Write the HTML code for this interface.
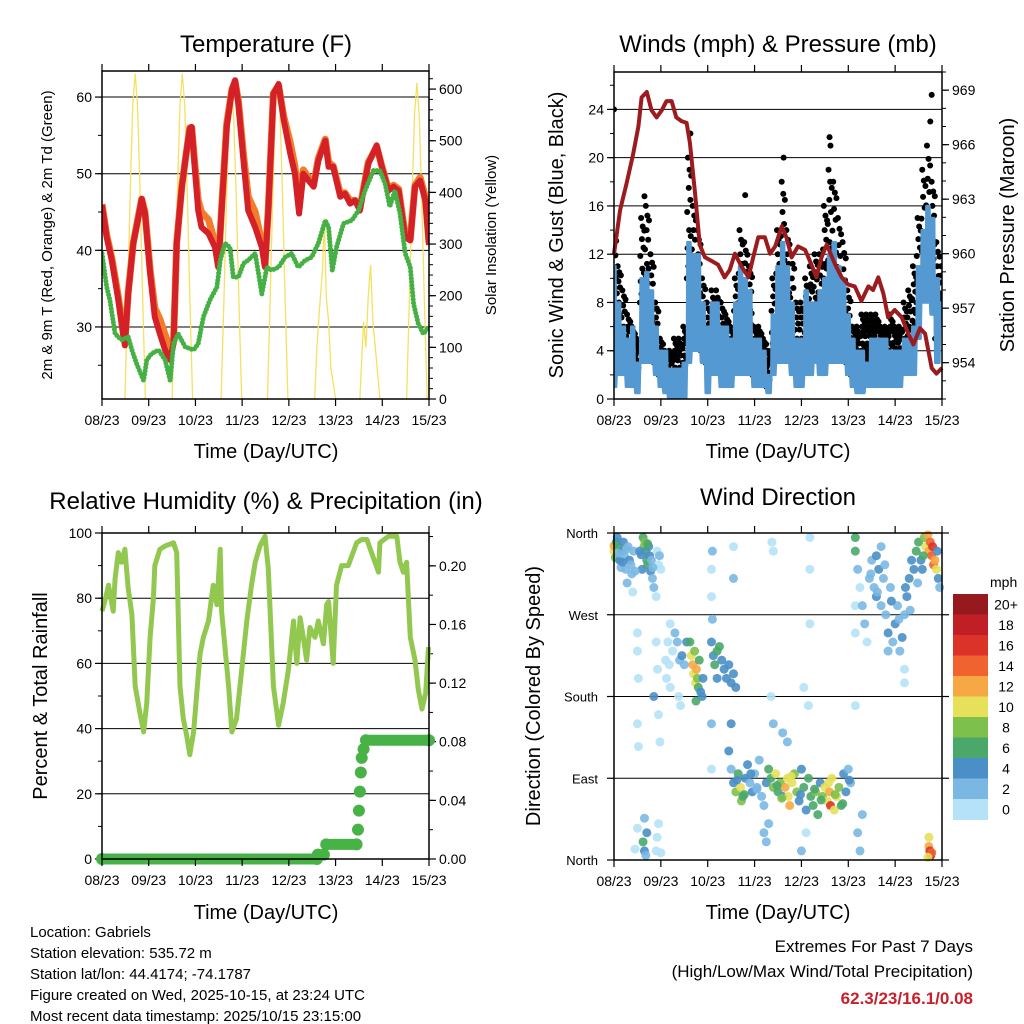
<!DOCTYPE html>
<html><head><meta charset="utf-8"><style>
html,body{margin:0;padding:0;background:#fff;}
svg{display:block;font-family:"Liberation Sans",Arial,sans-serif;}
</style></head><body>
<svg id="chart" width="1024" height="1024" viewBox="0 0 1024 1024" xmlns="http://www.w3.org/2000/svg">
<rect width="1024" height="1024" fill="#fff"/>
<text x="266" y="52" font-size="24" text-anchor="middle">Temperature (F)</text>
<text x="778" y="52" font-size="24" text-anchor="middle">Winds (mph) &amp; Pressure (mb)</text>
<text x="266" y="509" font-size="24" text-anchor="middle">Relative Humidity (%) &amp; Precipitation (in)</text>
<text x="778" y="505" font-size="24" text-anchor="middle">Wind Direction</text>
<text x="266" y="458" font-size="20" text-anchor="middle">Time (Day/UTC)</text>
<text x="778" y="458" font-size="20" text-anchor="middle">Time (Day/UTC)</text>
<text x="266" y="919" font-size="20" text-anchor="middle">Time (Day/UTC)</text>
<text x="778" y="919" font-size="20" text-anchor="middle">Time (Day/UTC)</text>
<text transform="translate(52,235) rotate(-90)" font-size="15" text-anchor="middle">2m &amp; 9m T (Red, Orange) &amp; 2m Td (Green)</text>
<text transform="translate(496,235) rotate(-90)" font-size="15" text-anchor="middle">Solar Insolation (Yellow)</text>
<text transform="translate(563,235) rotate(-90)" font-size="20" text-anchor="middle">Sonic Wind &amp; Gust (Blue, Black)</text>
<text transform="translate(1014,235) rotate(-90)" font-size="20" text-anchor="middle">Station Pressure (Maroon)</text>
<text transform="translate(47,696) rotate(-90)" font-size="20" text-anchor="middle">Percent &amp; Total Rainfall</text>
<text transform="translate(540,696) rotate(-90)" font-size="20" text-anchor="middle">Direction (Colored By Speed)</text>
<g font-size="15">
<text x="30" y="937">Location: Gabriels</text>
<text x="30" y="958">Station elevation: 535.72 m</text>
<text x="30" y="979">Station lat/lon: 44.4174; -74.1787</text>
<text x="30" y="1000">Figure created on Wed, 2025-10-15, at 23:24 UTC</text>
<text x="30" y="1021">Most recent data timestamp: 2025/10/15 23:15:00</text>
</g>
<g text-anchor="end">
<text x="973" y="952" font-size="17">Extremes For Past 7 Days</text>
<text x="973" y="977" font-size="17">(High/Low/Max Wind/Total Precipitation)</text>
<text x="973" y="1004" font-size="17" font-weight="bold" fill="#c8202a">62.3/23/16.1/0.08</text>
</g>
</svg>
<script>
// ---- data ----
const dayLabels = ["08/23","09/23","10/23","11/23","12/23","13/23","14/23","15/23"];
const tempTimes = [0,0.1,0.21,0.35,0.46,0.49,0.56,0.67,0.78,0.85,0.92,1.03,1.13,1.24,1.35,1.46,1.53,1.6,1.71,1.81,1.88,1.92,1.99,2.06,2.13,2.28,2.42,2.49,2.56,2.67,2.78,2.85,2.92,3.03,3.13,3.28,3.42,3.49,3.56,3.67,3.78,3.89,4.03,4.13,4.22,4.31,4.42,4.53,4.63,4.78,4.85,4.95,5.1,5.2,5.31,5.42,5.52,5.7,5.88,5.99,6.13,6.24,6.35,6.49,6.6,6.7,6.81,6.92,7.0];
const tempRed = [45.9,41.7,38.7,33.5,28.7,27.6,34.3,40.9,44.3,46.7,44.8,37,31.3,29.1,27,25.7,27.8,40.9,48.3,53,55.9,56.1,50.4,45.2,43,42.2,40.4,37.8,45.2,56.1,60.9,62.2,59.1,51.7,45.2,43,40.4,37.8,45.2,60.4,61.7,57,52.6,50,44.8,50,49.1,48.3,51.7,54.3,50.9,50.9,47,47.4,46.1,46.5,45.2,51.3,53.7,50.9,47.8,48.3,47.8,41.7,41.3,48.3,49.1,46.5,40.7];
const tempOrange = [46,42,39,34,29,28,34.5,41,44.5,46.7,45,37.5,32.5,31,29,27,28,41,48.5,53,56,56,51,46.5,45,44,41,38,45.5,56.5,61,62,59.5,52.5,47,45,41,38,45.5,60.5,61.5,57.5,54,51,45.5,50.5,49.5,48.5,52,54.5,51.5,51,47.5,47.5,46.5,46.5,45.5,51.5,53.5,51,48,48.5,48,42,41.5,48.5,49.5,47,41];
const dewTimes = [0,0.1,0.17,0.28,0.42,0.56,0.64,0.74,0.89,0.96,1.06,1.21,1.35,1.46,1.53,1.63,1.78,1.96,2.06,2.17,2.31,2.46,2.53,2.63,2.74,2.81,2.92,3.03,3.13,3.28,3.35,3.42,3.53,3.63,3.78,3.92,4.06,4.2,4.35,4.49,4.63,4.78,4.85,4.93,5.02,5.17,5.35,5.49,5.63,5.81,5.95,6.06,6.16,6.27,6.38,6.49,6.6,6.67,6.77,6.88,6.99];
const dewVals = [39.6,35.2,33.5,29.1,28.3,28.7,27,25.2,23,25.7,26.5,27,25.7,23,27.8,29.1,27.4,27,27.8,31.3,33.5,35.2,38.7,40.9,40.4,36.5,36.5,38.3,38.7,39.6,37,34.3,37.8,37.4,37.8,39.1,39.6,37.8,38.7,39.1,40.9,43.9,43,37.4,40.4,43.5,43.9,45.2,47.8,50.4,50.4,48.7,45.7,47.8,44.8,39.6,37.8,33,30.4,29.1,30];
const solarTimes = [0.49,0.55,0.61,0.66,0.71,0.76,0.81,0.87,0.93, 1.5,1.56,1.62,1.67,1.72,1.77,1.82,1.88,1.94, 2.55,2.61,2.67,2.72,2.77,2.82,2.87,2.93,2.99, 3.54,3.6,3.66,3.71,3.76,3.81,3.86,3.92,3.98, 4.55,4.6,4.66,4.72,4.76,4.8,4.85,4.9,5.0, 5.52,5.55,5.6,5.65,5.7,5.75,5.8,5.85,5.95, 6.52,6.58,6.64,6.69,6.74,6.79,6.84,6.9,6.96];
const solarVals = [0,200,420,570,630,570,420,200,0, 0,200,420,570,630,570,420,200,0, 0,190,400,545,604,545,400,190,0, 0,195,410,555,616,555,410,195,0, 0,100,180,250,350,200,150,60,0, 0,60,150,100,200,260,150,100,0, 0,195,400,550,612,550,400,195,0];
const windTimes = [0,0.1,0.2,0.3,0.4,0.5,0.6,0.7,0.8,0.9,1,1.1,1.2,1.3,1.4,1.5,1.6,1.7,1.8,1.9,2,2.1,2.2,2.3,2.4,2.5,2.6,2.7,2.8,2.9,3,3.1,3.2,3.3,3.4,3.5,3.6,3.7,3.8,3.9,4,4.1,4.2,4.3,4.4,4.5,4.6,4.7,4.8,4.9,5,5.1,5.2,5.3,5.4,5.5,5.6,5.7,5.8,5.9,6,6.1,6.2,6.3,6.4,6.5,6.6,6.7,6.8,6.9,7];
const sustLo = [1,2,2,1,1,0.5,3,3,3,2,1,0.5,0,0,0,0,3,4,4,3,0.5,2,2,1,1,1,2,2,2,2,1,1,1,0.5,2,3,3,3,2,1,1,2,2,3,2,2,3,3,3,3,2,1,0.5,0.5,1,1,1,1,1,1,1,1,2,2,2,5,8,8,7,3,6];
const sustHi = [11,8,6,5,6,3,10,10.5,9,6,4,4,2.5,2.5,2.5,3,13,12,12,8,6,8,8,6,6,5,8,11,10,9,5,5,4,2,7,11,13,11,8,5,5,9,8,8,9,10,12,13,11,10,7,5,4,4,3,5,5,5,5,4,4,4,5,5,6,11,14,16,15,10,8];
const gustLo = [8,6,4,3,2,2,8,8,5,3,2,2,1,1,1,2,10,8,6,4,3,3,3,3,3,2,4,6,6,5,2,2,2,1,4,6,8,6,4,3,3,4,5,6,5,8,9,9,6,4,3,2,2,3,3,3,3,3,3,3,3,3,3,4,5,8,10,10,10,5,8];
const gustHi = [14,11,9,7,6,5,15,16,12,8,5,4,4,5,5,6,20,16,14,10,8,9,9,8,7,6,10,14,13,11,6,6,5,4,10,14,18,14,12,8,8,10,11,12,12,16,19,18,15,13,9,6,6,7,7,7,7,6,6,7,6,6,8,9,11,15,19,21,18,13,11];
const gustPeakTimes = [0,0.65,1.63,2.8,3.62,4.6,4.62,6.75,6.78];
const gustPeakVals = [24,16.8,22,16.9,20,21.7,21,23,25.2];
const presTimes = [0,0.13,0.27,0.41,0.52,0.59,0.7,0.8,0.91,1.02,1.12,1.23,1.33,1.44,1.55,1.62,1.73,1.83,1.94,2.08,2.22,2.36,2.47,2.58,2.72,2.87,2.97,3.08,3.22,3.33,3.44,3.58,3.68,3.79,3.93,4.08,4.18,4.32,4.43,4.54,4.72,4.86,5,5.14,5.28,5.43,5.53,5.64,5.75,5.85,5.99,6.14,6.28,6.39,6.53,6.64,6.78,6.88,7];
const presVals = [960,962.4,963.9,965.5,967,968.6,968.9,967.9,967.5,967.9,968.4,968.4,967.5,967.3,967.2,966.1,963.3,960.5,959.8,959.6,959.4,958.7,959.1,960,959.3,958.7,959.8,960.9,960.9,960,960.4,961.5,960.9,959.8,960.4,960.2,959.6,958.7,959.8,960.5,959.4,958.7,958.3,958.2,957.4,958.2,958,958.7,957.8,956.5,956.9,956.5,955.6,955,955.9,955.6,953.7,953.4,953.7];
const rhTimes = [0,0.06,0.14,0.24,0.28,0.35,0.42,0.49,0.56,0.64,0.71,0.81,0.89,0.96,1.03,1.1,1.13,1.24,1.35,1.53,1.6,1.67,1.74,1.81,1.88,1.96,2.03,2.1,2.17,2.28,2.38,2.46,2.53,2.56,2.71,2.78,2.88,2.99,3.1,3.2,3.28,3.38,3.49,3.56,3.67,3.78,3.88,3.99,4.1,4.17,4.24,4.31,4.38,4.45,4.56,4.63,4.74,4.81,4.85,4.95,5.02,5.13,5.27,5.35,5.45,5.56,5.67,5.77,5.92,5.95,6.13,6.31,6.38,6.45,6.52,6.6,6.7,6.77,6.85,6.93,6.99];
const rhVals = [76,79,84,76,86,94,91,95,83,75,53,45,39,48,68,80,90,95,96,97,94,53,43,38,32,39,51,63,68,73,84,78,95,76,53,39,43,58,73,84,91,96,99,89,53,41,48,58,73,60,74,68,61,71,68,73,66,78,79,60,84,90,90,93,97,98,98,94,88,97,99,99,91,88,91,68,61,52,46,51,65];
const rainTimes = [0,4.6,4.62,4.75,4.8,5.45,5.48,5.5,5.52,5.54,5.56,5.6,5.65,7];
const rainVals = [0,0,0.003,0.003,0.01,0.01,0.02,0.033,0.046,0.059,0.069,0.075,0.081,0.081];
const dirTimes = [0,0,0.03,0.05,0.07,0.1,0.12,0.15,0.17,0.2,0.22,0.25,0.28,0.3,0.33,0.36,0.38,0.4,0.42,
0.62,0.64,0.66,0.68,0.7,0.72,0.74,0.76,0.78,0.8,0.82,0.85,0.6,0.55,0.92,0.95,1,0.9,
0.62,0.65,0.7,0.68,0.65,0.5,0.45,0.9,0.92,0.95,1,
0.5,0.5,0.52,0.5,0.52,0.9,0.93,0.95,0.98,0.85,
1.1,1.12,1.15,1.2,1.18,1.25,1.3,1.35,1.4,1.45,1.5,1.55,1.38,1.42,1.2,
1.62,1.65,1.68,1.7,1.72,1.74,1.76,1.78,1.8,1.82,1.85,1.88,1.9,1.75,
2.08,2.12,2.15,2.2,2.25,2.3,2.35,2.4,2.45,2.5,2.55,2.6,2.2,
2.08,2.08,2.1,2.1,2.55,2.55,3.37,3.4,4.18,4.18,4.18,2.08,2.08,3.35,3.4,4.05,4.15,5.15,5.15,5.15,
2.45,2.5,2.55,2.6,2.65,2.7,2.72,2.75,2.8,2.85,2.9,2.95,3,3.05,3.1,3.15,3.2,3.25,3.3,3.35,3.4,3.45,3.5,3.55,3.6,3.65,3.7,3.72,3.75,3.8,3.85,3.9,3.95,4,4.05,4.1,4.15,4.2,4.25,4.3,4.35,4.4,4.45,4.5,4.55,4.6,4.62,4.65,4.7,4.75,4.8,4.85,4.9,4.95,5,5.05,3.2,3.25,3.3,4,4.1,5.2,5.25,5.3,3.6,3.7,2.5,
5.15,5.15,5.2,5.25,5.3,5.35,5.4,5.45,5.5,5.55,5.6,5.65,5.7,5.75,5.8,5.85,5.9,5.95,6,6.05,6.1,6.15,6.2,6.25,6.3,6.35,6.4,5.6,5.7,6.2,6.2,5.85,
6.45,6.5,6.55,6.58,6.62,6.65,6.7,6.72,6.75,6.78,6.8,6.82,6.85,6.88,6.92,6.95,6.6,
6.72,6.74,6.76,6.78,6.72,6.7,
0.08,0.18,0.26,0.45,0.58,0.72,0.83,0.97,2.62,2.78,2.92,3.05,3.48,3.58,3.78,3.98,4.28,4.42,4.58,4.72,4.88,5.02,5.48,5.62,5.78,5.92,6.08,6.22,6.32,6.48,6.9];
const dirDegs = [340,346,333,350,355,345,330,322,340,350,335,320,305,345,330,325,315,295,340,
355,345,350,340,330,325,345,335,318,330,310,300,320,340,340,325,320,290,
20,10,30,5,46,35,12,10,25,40,8,
230,250,200,150,125,240,210,160,130,180,
220,200,240,260,215,230,250,240,220,225,215,240,180,170,190,
240,225,215,205,230,195,210,200,190,220,185,180,200,175,
240,225,215,230,235,220,210,200,215,195,205,190,200,
320,290,265,340,345,310,350,340,355,260,320,150,100,180,150,190,170,170,250,280,
120,100,85,75,95,80,65,70,90,105,85,75,95,80,110,70,60,85,100,90,80,95,75,85,70,80,90,70,60,85,95,75,65,100,80,55,90,70,60,75,50,85,70,80,65,75,60,90,55,70,80,60,95,75,100,85,30,20,40,10,30,30,10,50,140,130,150,
340,355,320,300,280,260,240,310,330,300,290,320,280,310,270,250,300,240,260,280,230,245,270,290,310,330,320,335,345,210,195,230,
340,350,330,320,355,345,358,340,350,335,345,325,330,320,310,300,335,
15,10,5,8,25,3,
338,328,342,318,336,348,322,335,88,72,95,78,82,68,92,72,78,66,85,72,62,88,315,295,325,285,265,300,275,305,340];
const dirSpeeds = [10,12,8,6,4,6,4,3,4,4,3,2,2,3,4,3,2,1,3,
7,9,8,6,7,6,5,4,4,3,2,3,4,4,1,1,1,1,
7,5,4,3,3,1,1,1,1,1,1,
1,1,1,1,1,1,1,1,1,4,
1,1,1,1,1,1,2,2,3,4,3,4,1,1,1,
7,10,12,11,9,10,12,8,7,6,5,4,5,7,
4,5,6,6,6,5,4,4,4,4,5,4,4,
1,1,2,2,1,3,1,1,1,1,1,2,1,1,2,1,1,1,1,1,
4,3,4,8,7,10,8,6,4,4,3,4,3,2,2,2,2,4,6,7,8,10,6,8,5,12,11,10,12,10,9,8,4,5,6,4,6,7,6,8,6,5,9,10,11,12,16,10,10,11,8,7,5,4,2,3,2,2,3,2,1,2,3,2,3,2,4,
6,7,2,1,2,2,1,3,3,2,4,4,3,2,3,4,2,3,4,3,3,4,2,4,4,5,4,4,3,1,1,3,
6,7,5,4,8,10,12,13,14,15,16,14,12,10,4,3,6,
12,16,18,14,10,10,
3,5,2,3,4,7,3,2,5,6,4,3,7,9,10,5,6,7,11,9,6,4,3,2,3,4,3,4,3,2,5];
const speedColors = ["#b5e2f7","#7ab8e3","#4a8fc7","#4aa86a","#7dc04b","#e6e05a","#f6a844","#f0622f","#dc3328","#c11f26","#961a1d"];
const speedLabels = ["0","2","4","6","8","10","12","14","16","18","20+"];

// ---- helpers ----
const svg = document.getElementById('chart');
const NS = 'http://www.w3.org/2000/svg';
function mk(tag, attrs, parent){
  const e = document.createElementNS(NS, tag);
  for (const k in attrs) e.setAttribute(k, attrs[k]);
  (parent||svg).appendChild(e);
  return e;
}
function makePanel(x0, x1, y0, y1){
  return {x0,x1,y0,y1, sx: d => x0 + d/7*(x1-x0)};
}
function yScale(p, lo, hi){ return v => p.y1 - (v-lo)/(hi-lo)*(p.y1-p.y0); }
function xAxis(p, name){
  const g = mk('g', {});
  
  
  for (let i=0;i<dayLabels.length;i++){
    const x = p.sx(i);
    mk('line',{x1:x,x2:x,y1:p.y1,y2:p.y1+7,stroke:'#000','stroke-width':1.2},g);
    mk('line',{x1:x,x2:x,y1:p.y0,y2:p.y0-7,stroke:'#000','stroke-width':1.2},g);
    const t = mk('text',{x:x,y:p.y1+26,'font-size':14,'text-anchor':'middle'},g);
    t.textContent = dayLabels[i];
  }
}
function yAxisSide(p, ys, lo, hi, step, minor, labels, side, name, grid, fmt){
  const g = mk('g', {});
  
  
  const xe = side==='left'? p.x0 : p.x1;
  const dir = side==='left'? -1 : 1;
  for (let v=lo; v<=hi+1e-9; v+=minor){
    const y = ys(v);
    if (y < p.y0-0.5 || y > p.y1+0.5) continue;
    mk('line',{x1:xe,x2:xe+dir*4,y1:y,y2:y,stroke:'#000','stroke-width':1},g);
  }
  for (let i=0;i<labels.length;i++){
    const v = labels[i];
    const y = ys(v);
    mk('line',{x1:xe,x2:xe+dir*7,y1:y,y2:y,stroke:'#000','stroke-width':1.2},g);
    if (grid && y>p.y0+2 && y<p.y1-2) mk('line',{x1:p.x0,x2:p.x1,y1:y,y2:y,stroke:'#000','stroke-width':1},g);
    const t = mk('text',{x:xe+dir*10,y:y+5,'font-size':14,'text-anchor':side==='left'?'end':'start'},g);
    t.textContent = fmt ? fmt(v) : String(v);
  }
}
function box(p, name){
  const r = mk('rect',{x:p.x0,y:p.y0,width:p.x1-p.x0,height:p.y1-p.y0,fill:'none',stroke:'#000','stroke-width':1.5});
  
  
}
function pathFrom(ts, vs, sx, sy){
  return ts.map((t,i)=>(i?'L':'M')+sx(t).toFixed(1)+','+sy(vs[i]).toFixed(1)).join(' ');
}

// ---- Temperature panel ----
const P1 = makePanel(102,429,71,399);
const tY = yScale(P1, 20.6, 63.4);
const sY = yScale(P1, 0, 635);
yAxisSide(P1, tY, 25, 63, 10, 5, [30,40,50,60], 'left', 'temp-y-axis', true);
yAxisSide(P1, sY, 0, 635, 100, 20, [0,100,200,300,400,500,600], 'right', 'solar-y-axis', false);
const clip1 = mk('clipPath',{id:'c1'}); mk('rect',{x:P1.x0,y:P1.y0,width:P1.x1-P1.x0,height:P1.y1-P1.y0},clip1);
const solarLine = mk('path',{d:pathFrom(solarTimes,solarVals,P1.sx,sY),fill:'none',stroke:'#f6e061','stroke-width':1.3,'clip-path':'url(#c1)'});


const orangeLine = mk('path',{d:pathFrom(tempTimes,tempOrange,P1.sx,tY),fill:'none',stroke:'#f47b2a','stroke-width':7,'stroke-linejoin':'round','clip-path':'url(#c1)'});


const redLine = mk('path',{d:pathFrom(tempTimes,tempRed,P1.sx,tY),fill:'none',stroke:'#d42027','stroke-width':6,'stroke-linejoin':'round','clip-path':'url(#c1)'});


const dewLine = mk('path',{d:pathFrom(dewTimes,dewVals,P1.sx,tY),fill:'none',stroke:'#45b044','stroke-width':5,'stroke-linecap':'round','stroke-dasharray':'0 3.5','clip-path':'url(#c1)'});


box(P1,'temp-plot-frame');
xAxis(P1,'temp-x-axis');

// ---- Winds panel ----
const P2 = makePanel(614,942,72,399);
const wY = yScale(P2, 0, 27.1);
const pY = yScale(P2, 952, 970);
yAxisSide(P2, wY, 0, 27, 4, 2, [0,4,8,12,16,20,24], 'left', 'wind-y-axis', true);
yAxisSide(P2, pY, 952, 970, 3, 1, [954,957,960,963,966,969], 'right', 'pressure-y-axis', false);
const clip2 = mk('clipPath',{id:'c2'}); mk('rect',{x:P2.x0,y:P2.y0-6,width:P2.x1-P2.x0,height:P2.y1-P2.y0+6},clip2);
const gustG = mk('g',{'clip-path':'url(#c2)'});


const gustFrac = [0,0.55,0.25,1,0.1,0.75,0.4,0.9,0.2,0.65,0.35,0.85];
for (let i=0;i<windTimes.length;i++){
  const span = gustHi[i]-gustLo[i];
  for (let k=0;k<gustFrac.length;k++){
    const t = windTimes[i] + (k-5.5)*0.0085;
    const v = gustLo[i] + span*gustFrac[k];
    if (t<0||t>7) continue;
    const c = mk('circle',{cx:P2.sx(t),cy:wY(v),r:3,fill:'#000'},gustG);
    
    
  }
}
for (let i=0;i<gustPeakTimes.length;i++){
  const c = mk('circle',{cx:P2.sx(gustPeakTimes[i]),cy:wY(gustPeakVals[i]),r:3,fill:'#000'},gustG);
  
  
}
let wd = '';
for (let i=0;i<windTimes.length;i++){
  for (let k=0;k<9;k++){
    const t = windTimes[i] + (k-4)*0.011;
    if (t<0||t>7) continue;
    const v = (k%2===0) ? sustLo[i] : sustHi[i];
    wd += (wd?'L':'M') + P2.sx(t).toFixed(1)+','+wY(v).toFixed(1)+' ';
  }
}
const windLine = mk('path',{d:wd,fill:'none',stroke:'#5499d2','stroke-width':2.5,'stroke-linejoin':'round','clip-path':'url(#c2)'});


const presLine = mk('path',{d:pathFrom(presTimes,presVals,P2.sx,pY),fill:'none',stroke:'#9b1b1e','stroke-width':4,'stroke-linejoin':'round'});


box(P2,'winds-plot-frame');
xAxis(P2,'winds-x-axis');

// ---- RH panel ----
const P3 = makePanel(102,429,533,859);
const rY = yScale(P3, 0, 100);
const pcY = yScale(P3, 0, 0.2224);
yAxisSide(P3, rY, 0, 100, 20, 10, [0,20,40,60,80,100], 'left', 'rh-y-axis', true);
yAxisSide(P3, pcY, 0, 0.22, 0.04, 0.02, [0,0.04,0.08,0.12,0.16,0.2], 'right', 'rain-y-axis', false, v=>v.toFixed(2));
const rhLine = mk('path',{d:pathFrom(rhTimes,rhVals,P3.sx,rY),fill:'none',stroke:'#92c850','stroke-width':5,'stroke-linejoin':'round'});


const rainG = mk('g',{});


for (let i=0;i<rainTimes.length;i++){
  if (i>0 && Math.abs(rainVals[i]-rainVals[i-1])<0.005){
    const l = mk('line',{x1:P3.sx(rainTimes[i-1]),y1:pcY(rainVals[i-1]),x2:P3.sx(rainTimes[i]),y2:pcY(rainVals[i]),stroke:'#47b347','stroke-width':11,'stroke-linecap':'round'},rainG);
    
    
  }
  const c = mk('circle',{cx:P3.sx(rainTimes[i]),cy:pcY(rainVals[i]),r:6,fill:'#47b347'},rainG);
  
  
}
box(P3,'rh-plot-frame');
xAxis(P3,'rh-x-axis');

// ---- Wind direction panel ----
const P4 = makePanel(614,942,533,860);
const dY = yScale(P4, 0, 360);
const dg = mk('g',{});


const dirNames = ["North","East","South","West","North"];
const dirTicks = [0,90,180,270,360];
for (let i=0;i<dirTicks.length;i++){
  const y = dY(dirTicks[i]);
  mk('line',{x1:P4.x0-7,x2:P4.x0,y1:y,y2:y,stroke:'#000','stroke-width':1.2},dg);
  mk('line',{x1:P4.x1,x2:P4.x1+7,y1:y,y2:y,stroke:'#000','stroke-width':1.2},dg);
  if (i>0 && i<4) mk('line',{x1:P4.x0,x2:P4.x1,y1:y,y2:y,stroke:'#000','stroke-width':1},dg);
  const t = mk('text',{x:P4.x0-16,y:y+5,'font-size':13,'text-anchor':'end'},dg);
  t.textContent = dirNames[i];
}
const dotsG = mk('g',{});


for (let i=0;i<dirTimes.length;i++){
  const bin = Math.min(10, Math.floor(dirSpeeds[i]/2));
  const c = mk('circle',{cx:P4.sx(dirTimes[i]),cy:dY(dirDegs[i]),r:4.5,fill:speedColors[bin],'fill-opacity':0.9},dotsG);
  
  
}
box(P4,'direction-plot-frame');
xAxis(P4,'direction-x-axis');

// colorbar legend
const lg = mk('g',{});


const cbTop = 594, cbH = 20.5;
const mt = mk('text',{x:990,y:587,'font-size':14},lg);
mt.textContent = 'mph';
for (let i=0;i<speedColors.length;i++){
  const idx = speedColors.length-1-i;
  const r = mk('rect',{x:953,y:cbTop+i*cbH,width:35,height:cbH+0.5,fill:speedColors[idx]},lg);
  
  
  const t = mk('text',{x:1006,y:cbTop+i*cbH+cbH/2+5,'font-size':14,'text-anchor':'middle'},lg);
  t.textContent = speedLabels[idx];
}
</script>
</body></html>
